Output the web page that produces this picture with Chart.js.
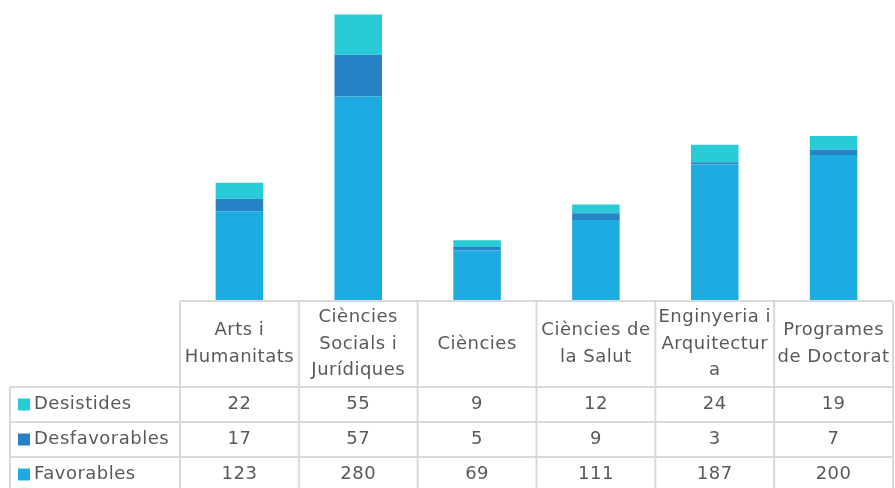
<!DOCTYPE html>
<html>
<head>
<meta charset="utf-8">
<script src="https://cdn.jsdelivr.net/npm/chart.js@4.4.0/dist/chart.umd.min.js"></script>
<style>
  html, body { margin: 0; padding: 0; background: #fff; }
  #wrap { width: 895px; height: 488px; position: relative; }
</style>
</head>
<body>
<div id="wrap"><canvas id="grafic"></canvas></div>
<script>
const categories = [
  ["Arts i", "Humanitats"],
  ["Ciències", "Socials i", "Jurídiques"],
  ["Ciències"],
  ["Ciències de", "la Salut"],
  ["Enginyeria i", "Arquitectur", "a"],
  ["Programes", "de Doctorat"],
];
const favorables = [123, 280, 69, 111, 187, 200];
const desfavorables = [17, 57, 5, 9, 3, 7];
const desistides = [22, 55, 9, 12, 24, 19];

const colors = {
  Favorables: "#1eabe2",
  Desfavorables: "#2683c6",
  Desistides: "#29ccd6",
};
const textColor = "#595959";
const fontFamily = "'DejaVu Sans', sans-serif";

// rows of the data table, in the order shown under the chart
const tableRows = [
  { label: "Desistides", values: desistides },
  { label: "Desfavorables", values: desfavorables },
  { label: "Favorables", values: favorables },
];

const dataTable = {
  id: "dataTable",
  afterDraw(chart) {
    const ctx = chart.ctx;
    const x = chart.scales.x;
    const area = chart.chartArea;
    const n = categories.length;
    const colW = (area.right - area.left) / n;
    const top = area.bottom;
    const headH = 86;
    const rowH = 35;
    const leftX = 10;
    const bottom = chart.height + 4;

    ctx.save();
    ctx.strokeStyle = "#d9d9d9";
    ctx.lineWidth = 2;
    ctx.beginPath();
    ctx.moveTo(area.left, top);
    ctx.lineTo(area.right, top);
    for (let i = 0; i <= n; i++) {
      const cx = area.left + i * colW;
      ctx.moveTo(cx, top);
      ctx.lineTo(cx, bottom);
    }
    for (let r = 0; r < tableRows.length; r++) {
      const y = top + headH + r * rowH;
      ctx.moveTo(leftX, y);
      ctx.lineTo(area.right, y);
    }
    ctx.moveTo(leftX, top + headH);
    ctx.lineTo(leftX, bottom);
    ctx.stroke();

    ctx.fillStyle = textColor;
    ctx.font = "18px " + fontFamily;
    ctx.letterSpacing = "0.5px";
    ctx.textAlign = "center";
    ctx.textBaseline = "middle";
    const lineH = 26.5;
    categories.forEach((lines, i) => {
      const cx = x.getPixelForValue(i);
      const y0 = top + headH / 2 - ((lines.length - 1) * lineH) / 2;
      lines.forEach((t, k) => ctx.fillText(t, cx, y0 + k * lineH));
    });

    tableRows.forEach((row, r) => {
      const cy = top + headH + r * rowH + rowH / 2;
      ctx.fillStyle = colors[row.label];
      ctx.fillRect(18, cy - 6, 12, 12);
      ctx.fillStyle = textColor;
      ctx.textAlign = "left";
      ctx.fillText(row.label, 34, cy);
      ctx.textAlign = "center";
      row.values.forEach((v, i) => {
        ctx.fillText(String(v), x.getPixelForValue(i), cy);
      });
    });
    ctx.restore();
  },
};

new Chart(document.getElementById("grafic"), {
  type: "bar",
  data: {
    labels: categories.map((c) => c.join(" ")),
    datasets: [
      { label: "Favorables", data: favorables, backgroundColor: colors.Favorables },
      { label: "Desfavorables", data: desfavorables, backgroundColor: colors.Desfavorables },
      { label: "Desistides", data: desistides, backgroundColor: colors.Desistides },
    ],
  },
  options: {
    responsive: true,
    maintainAspectRatio: false,
    animation: false,
    layout: { padding: { left: 180, right: 2, top: 0, bottom: 187 } },
    datasets: { bar: { categoryPercentage: 1, barPercentage: 0.4 } },
    plugins: { legend: { display: false }, tooltip: { enabled: false } },
    scales: {
      x: { stacked: true, display: false },
      y: { stacked: true, display: false, min: 0, max: 412 },
    },
  },
  plugins: [dataTable],
});
</script>
</body>
</html>
